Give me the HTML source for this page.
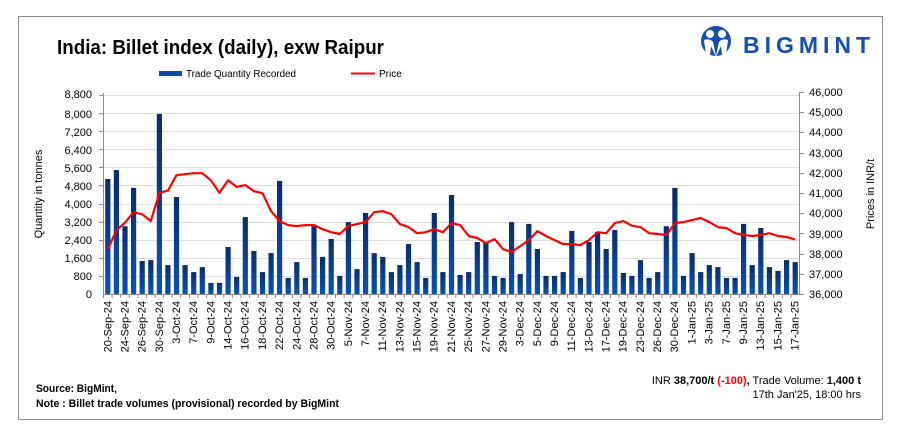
<!DOCTYPE html>
<html><head><meta charset="utf-8"><style>
html,body{margin:0;padding:0;background:#fff;}
svg{display:block;font-family:"Liberation Sans",sans-serif;}
</style></head><body>
<svg id="s" width="906" height="440" viewBox="0 0 906 440" xmlns="http://www.w3.org/2000/svg">
<defs><linearGradient id="g" x1="0" y1="0" x2="0" y2="1"><stop offset="0" stop-color="#0a2c6e"/><stop offset="1" stop-color="#0a52b4"/></linearGradient></defs>
<rect x="0" y="0" width="906" height="440" fill="#fff"/>
<rect x="18.5" y="16.5" width="864" height="403" fill="none" stroke="#8c8c8c" stroke-width="1"/>
<text x="57" y="54" font-size="20" font-weight="bold" fill="#000" textLength="327" lengthAdjust="spacingAndGlyphs">India: Billet index (daily), exw Raipur</text>
<!-- logo -->
<g fill="#1550b0">
<circle cx="716" cy="41" r="15"/>
<circle cx="710" cy="34" r="4" fill="#fff"/><circle cx="722" cy="34" r="4" fill="#fff"/>
<path d="M704 40 Q710 38 713 42 L716 56 L719 42 Q722 38 728 40 L726 55 L722 55 L721 46 L716 57 L711 46 L710 55 L706 55 Z" fill="#fff"/>
</g>
<text x="743" y="53" font-size="23" font-weight="bold" fill="#1550b0" textLength="127" lengthAdjust="spacing">BIGMINT</text>
<!-- legend -->
<rect x="159" y="71" width="23" height="5" fill="#0a4aa6"/>
<text x="186" y="77" font-size="10" fill="#000" textLength="110" lengthAdjust="spacingAndGlyphs">Trade Quantity Recorded</text>
<line x1="351" y1="73.5" x2="375" y2="73.5" stroke="#f00" stroke-width="2"/>
<text x="379" y="77" font-size="10" fill="#000">Price</text>
<g id="grid" stroke="#dedede" stroke-width="1"></g>
<g id="bars" fill="url(#g)"></g>
<polyline id="line" fill="none" stroke="#ff0000" stroke-width="2.2" stroke-linejoin="round"/>
<line x1="103.5" y1="93" x2="103.5" y2="294" stroke="#8c8c8c"/>
<line x1="799.5" y1="92" x2="799.5" y2="294" stroke="#8c8c8c"/>
<line x1="103" y1="294.5" x2="800" y2="294.5" stroke="#8c8c8c"/>
<g id="ticks" stroke="#8c8c8c"></g>
<g font-size="11" fill="#000" text-anchor="end">
<text x="92" y="98">8,800</text><text x="92" y="118">8,000</text><text x="92" y="136">7,200</text><text x="92" y="154">6,400</text><text x="92" y="172">5,600</text><text x="92" y="190">4,800</text><text x="92" y="208">4,000</text><text x="92" y="226">3,200</text><text x="92" y="244">2,400</text><text x="92" y="262">1,600</text><text x="92" y="280">800</text><text x="92" y="298">0</text>
</g>
<g font-size="11" fill="#000">
<text x="809" y="96">46,000</text><text x="809" y="116">45,000</text><text x="809" y="136">44,000</text><text x="809" y="157">43,000</text><text x="809" y="177">42,000</text><text x="809" y="197">41,000</text><text x="809" y="217">40,000</text><text x="809" y="238">39,000</text><text x="809" y="258">38,000</text><text x="809" y="278">37,000</text><text x="809" y="298">36,000</text>
</g>
<text transform="translate(42,194) rotate(-90)" font-size="11" text-anchor="middle">Quantity in tonnes</text>
<text transform="translate(874,194) rotate(-90)" font-size="11" text-anchor="middle">Prices in INR/t</text>
<g font-size="11" fill="#000" text-anchor="end">
<text transform="translate(111.3,301) rotate(-90)">20-Sep-24</text>
<text transform="translate(128.5,301) rotate(-90)">24-Sep-24</text>
<text transform="translate(145.7,301) rotate(-90)">26-Sep-24</text>
<text transform="translate(162.8,301) rotate(-90)">30-Sep-24</text>
<text transform="translate(180.0,301) rotate(-90)">3-Oct-24</text>
<text transform="translate(197.2,301) rotate(-90)">7-Oct-24</text>
<text transform="translate(214.4,301) rotate(-90)">9-Oct-24</text>
<text transform="translate(231.6,301) rotate(-90)">14-Oct-24</text>
<text transform="translate(248.7,301) rotate(-90)">16-Oct-24</text>
<text transform="translate(265.9,301) rotate(-90)">18-Oct-24</text>
<text transform="translate(283.1,301) rotate(-90)">22-Oct-24</text>
<text transform="translate(300.3,301) rotate(-90)">24-Oct-24</text>
<text transform="translate(317.5,301) rotate(-90)">28-Oct-24</text>
<text transform="translate(334.6,301) rotate(-90)">30-Oct-24</text>
<text transform="translate(351.8,301) rotate(-90)">5-Nov-24</text>
<text transform="translate(369.0,301) rotate(-90)">7-Nov-24</text>
<text transform="translate(386.2,301) rotate(-90)">11-Nov-24</text>
<text transform="translate(403.4,301) rotate(-90)">13-Nov-24</text>
<text transform="translate(420.5,301) rotate(-90)">15-Nov-24</text>
<text transform="translate(437.7,301) rotate(-90)">19-Nov-24</text>
<text transform="translate(454.9,301) rotate(-90)">21-Nov-24</text>
<text transform="translate(472.1,301) rotate(-90)">25-Nov-24</text>
<text transform="translate(489.3,301) rotate(-90)">27-Nov-24</text>
<text transform="translate(506.4,301) rotate(-90)">29-Nov-24</text>
<text transform="translate(523.6,301) rotate(-90)">3-Dec-24</text>
<text transform="translate(540.8,301) rotate(-90)">5-Dec-24</text>
<text transform="translate(558.0,301) rotate(-90)">9-Dec-24</text>
<text transform="translate(575.2,301) rotate(-90)">11-Dec-24</text>
<text transform="translate(592.3,301) rotate(-90)">13-Dec-24</text>
<text transform="translate(609.5,301) rotate(-90)">17-Dec-24</text>
<text transform="translate(626.7,301) rotate(-90)">19-Dec-24</text>
<text transform="translate(643.9,301) rotate(-90)">23-Dec-24</text>
<text transform="translate(661.1,301) rotate(-90)">26-Dec-24</text>
<text transform="translate(678.2,301) rotate(-90)">30-Dec-24</text>
<text transform="translate(695.4,301) rotate(-90)">1-Jan-25</text>
<text transform="translate(712.6,301) rotate(-90)">3-Jan-25</text>
<text transform="translate(729.8,301) rotate(-90)">7-Jan-25</text>
<text transform="translate(747.0,301) rotate(-90)">9-Jan-25</text>
<text transform="translate(764.1,301) rotate(-90)">13-Jan-25</text>
<text transform="translate(781.3,301) rotate(-90)">15-Jan-25</text>
<text transform="translate(798.5,301) rotate(-90)">17-Jan-25</text>
</g>
<text x="36" y="392" font-size="11" font-weight="bold" textLength="81" lengthAdjust="spacingAndGlyphs">Source: BigMint,</text>
<text x="36" y="407" font-size="11" font-weight="bold" textLength="303" lengthAdjust="spacingAndGlyphs">Note : Billet trade volumes (provisional) recorded by BigMint</text>
<text x="861" y="384" font-size="11" text-anchor="end">INR <tspan font-weight="bold">38,700/t</tspan> <tspan font-weight="bold" fill="#f00">(-100)</tspan><tspan font-weight="bold">,</tspan> Trade Volume: <tspan font-weight="bold">1,400 t</tspan></text>
<text x="861" y="398" font-size="11" text-anchor="end">17th Jan'25, 18:00 hrs</text>
</svg>
<script>
var ns="http://www.w3.org/2000/svg";
var q=[5085,5480,3000,4690,1460,1500,7960,1280,4290,1280,970,1190,490,490,2080,750,3400,1900,970,1810,5000,710,1410,710,3000,1640,2430,800,3180,1100,3580,1810,1640,970,1280,2210,1410,710,3580,970,4380,840,970,2300,2260,800,710,3180,880,3100,1990,800,800,970,2790,710,2300,2740,1990,2830,930,800,1500,710,970,3000,4690,800,1810,970,1280,1190,710,710,3100,1280,2920,1190,1020,1500,1410];
var p=[38220,39160,39530,40050,39950,39610,41010,41120,41880,41930,41980,41980,41630,41010,41630,41300,41390,41090,40990,40100,39610,39410,39360,39410,39410,39210,39060,38970,39360,39460,39560,40050,40100,39950,39460,39310,39010,39060,39210,39060,39510,39410,38870,38770,38520,38720,38220,38080,38370,38670,39110,38870,38670,38470,38470,38420,38670,39060,39010,39510,39610,39380,39310,39010,38970,38920,39510,39560,39660,39760,39560,39310,39260,39010,38920,38870,38920,39010,38870,38820,38700];
var g=document.getElementById('grid'),b=document.getElementById('bars'),t=document.getElementById('ticks');
function el(par,n,a){var e=document.createElementNS(ns,n);for(var k in a)e.setAttribute(k,a[k]);par.appendChild(e);}
for(var v=800;v<=8800;v+=800){var y=Math.round(294-v/8800*199)+0.5;el(g,'line',{x1:104,x2:799,y1:y,y2:y});el(t,'line',{x1:99,x2:104,y1:y,y2:y});}
for(var v=36000;v<=46000;v+=1000){var y=Math.round(294-(v-36000)*0.0202)+0.5;el(t,'line',{x1:799,x2:804,y1:y,y2:y});}
var w=696/81,pts=[];
for(var i=0;i<81;i++){var cx=103.5+w*(i+0.5);var h=q[i]/8800*199;el(b,'rect',{x:(cx-2.6).toFixed(1),y:(294-h).toFixed(1),width:5.2,height:h.toFixed(1)});
pts.push(cx.toFixed(1)+','+(294-(p[i]-36000)*0.0202).toFixed(1));
el(t,'line',{x1:(103.5+w*i).toFixed(1),x2:(103.5+w*i).toFixed(1),y1:294,y2:298});}
document.getElementById('line').setAttribute('points',pts.join(' '));
</script>
</body></html>
